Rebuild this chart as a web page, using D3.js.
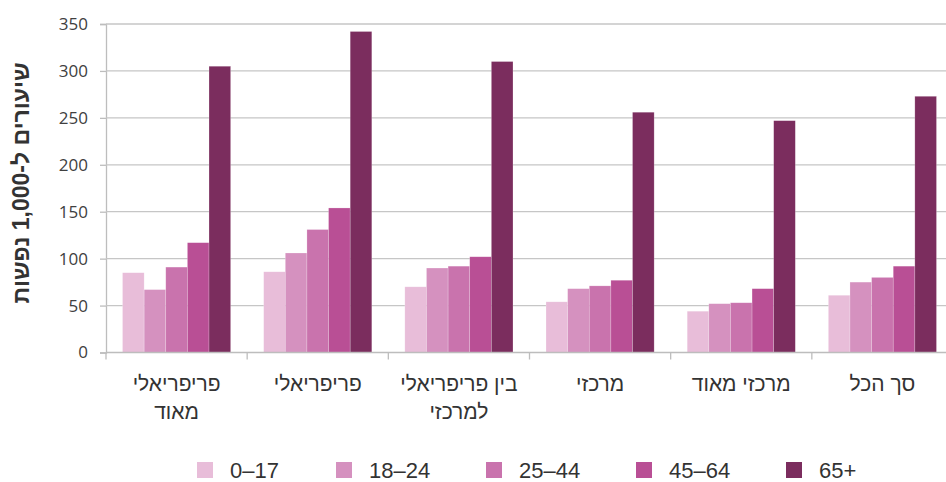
<!DOCTYPE html>
<html>
<head>
<meta charset="utf-8">
<script src="https://cdn.jsdelivr.net/npm/d3@7"></script>
<style>
  body { margin: 0; background: #fff; }
  svg { display: block; }
</style>
</head>
<body>
<script>
const width = 946;
const height = 482;

// data
const categories = ["פריפריאלי מאוד", "פריפריאלי", "בין פריפריאלי למרכזי", "מרכזי", "מרכזי מאוד", "סך הכל"];
const categoryLines = [["פריפריאלי", "מאוד"], ["פריפריאלי"], ["בין פריפריאלי", "למרכזי"], ["מרכזי"], ["מרכזי מאוד"], ["סך הכל"]];
const ageGroups = ["0–17", "18–24", "25–44", "45–64", "65+"];
const values0_17  = [85, 86, 70, 54, 44, 61];
const values18_24 = [67, 106, 90, 68, 52, 75];
const values25_44 = [91, 131, 92, 71, 53, 80];
const values45_64 = [117, 154, 102, 77, 68, 92];
const values65    = [305, 342, 310, 256, 247, 273];
const seriesValues = [values0_17, values18_24, values25_44, values45_64, values65];
const colors = ["#e8bdd9", "#d591bf", "#c973ad", "#b94f95", "#7b2d5e"];
const yTicks = [0, 50, 100, 150, 200, 250, 300, 350];
const yTitle = "שיעורים ל-1,000 נפשות";

const plotLeft = 106, plotRight = 953, plotTop = 24, plotBottom = 352.5;

const svg = d3.select("body").append("svg")
  .attr("width", width)
  .attr("height", height);

var y = d3.scaleLinear().domain([0, 350]).range([plotBottom, plotTop]);

var x0 = d3.scaleBand()
  .domain(categories)
  .range([plotLeft, plotRight])
  .paddingInner(0.234)
  .paddingOuter(0.117);

var x1 = d3.scaleBand()
  .domain(ageGroups)
  .range([0, x0.bandwidth()]);

var color = d3.scaleOrdinal().domain(ageGroups).range(colors);

// gridlines + y axis
var yAxis = svg.append("g")
  .attr("transform", "translate(" + plotLeft + ",0)")
  .call(d3.axisLeft(y).tickValues(yTicks).tickSize(6).tickPadding(12));
yAxis.select(".domain").attr("stroke", "#bdbdbd").attr("stroke-width", 1.3);
yAxis.selectAll(".tick line").attr("stroke", "#bdbdbd").attr("stroke-width", 1.3);
yAxis.selectAll(".tick text")
  .attr("fill", "#404040")
  .style("font-family", "'Open Sans', sans-serif")
  .style("font-size", "17px");

svg.append("g")
  .selectAll("line")
  .data(yTicks.filter(d => d > 0))
  .enter().append("line")
  .attr("x1", plotLeft)
  .attr("x2", plotRight)
  .attr("y1", d => y(d))
  .attr("y2", d => y(d))
  .attr("stroke", "#c6c6c6")
  .attr("stroke-width", 1.3);

// bars
var rows = [];
categories.forEach(function(c, i) {
  ageGroups.forEach(function(g, j) {
    rows.push({cat: c, group: g, value: seriesValues[j][i]});
  });
});

svg.append("g")
  .selectAll("rect")
  .data(rows)
  .enter().append("rect")
  .attr("x", d => x0(d.cat) + x1(d.group))
  .attr("y", d => y(d.value))
  .attr("width", x1.bandwidth())
  .attr("height", d => y(0) - y(d.value))
  .attr("fill", d => color(d.group))
  .attr("stroke", "#ffffff")
  .attr("stroke-opacity", 0.35)
  .attr("stroke-width", 0.6);

// x axis baseline with boundary ticks
svg.append("line")
  .attr("x1", plotLeft).attr("x2", plotRight)
  .attr("y1", y(0)).attr("y2", y(0))
  .attr("stroke", "#bdbdbd").attr("stroke-width", 1.3);

var step = x0.step();
svg.append("g")
  .selectAll("line")
  .data(d3.range(categories.length + 1))
  .enter().append("line")
  .attr("x1", d => plotLeft + d * step)
  .attr("x2", d => plotLeft + d * step)
  .attr("y1", y(0))
  .attr("y2", y(0) + 7)
  .attr("stroke", "#bdbdbd")
  .attr("stroke-width", 1.3);

// category labels
var labels = svg.append("g")
  .selectAll("text")
  .data(categories)
  .enter().append("text")
  .attr("x", d => x0(d) + x0.bandwidth() / 2)
  .attr("y", 391)
  .attr("text-anchor", "middle")
  .attr("direction", "rtl")
  .attr("fill", "#333")
  .style("font-family", "'Liberation Sans Narrow', 'Liberation Sans', sans-serif")
  .style("font-size", "21px");

labels.each(function(d, i) {
  d3.select(this).selectAll("tspan")
    .data(categoryLines[i])
    .enter().append("tspan")
    .attr("x", x0(d) + x0.bandwidth() / 2)
    .attr("dy", (t, k) => k === 0 ? 0 : 28)
    .text(t => t);
});

// y title
svg.append("text")
  .attr("transform", "translate(29,183) rotate(-90)")
  .attr("text-anchor", "middle")
  .attr("direction", "rtl")
  .attr("fill", "#333")
  .style("font-family", "'Liberation Sans', sans-serif")
  .style("font-weight", "bold")
  .style("font-size", "23px")
  .text(yTitle);

// legend
var legendX = [197, 336, 486, 636, 786];
var legend = svg.append("g")
  .selectAll("g")
  .data(ageGroups)
  .enter().append("g")
  .attr("transform", (d, i) => "translate(" + legendX[i] + ",462)");

legend.append("rect")
  .attr("width", 16)
  .attr("height", 16)
  .attr("fill", d => color(d));

legend.append("text")
  .attr("x", 33)
  .attr("y", 16)
  .attr("fill", "#333")
  .style("font-family", "'Liberation Sans Narrow', 'Liberation Sans', sans-serif")
  .style("font-size", "22px")
  .text(d => d);
</script>
</body>
</html>
